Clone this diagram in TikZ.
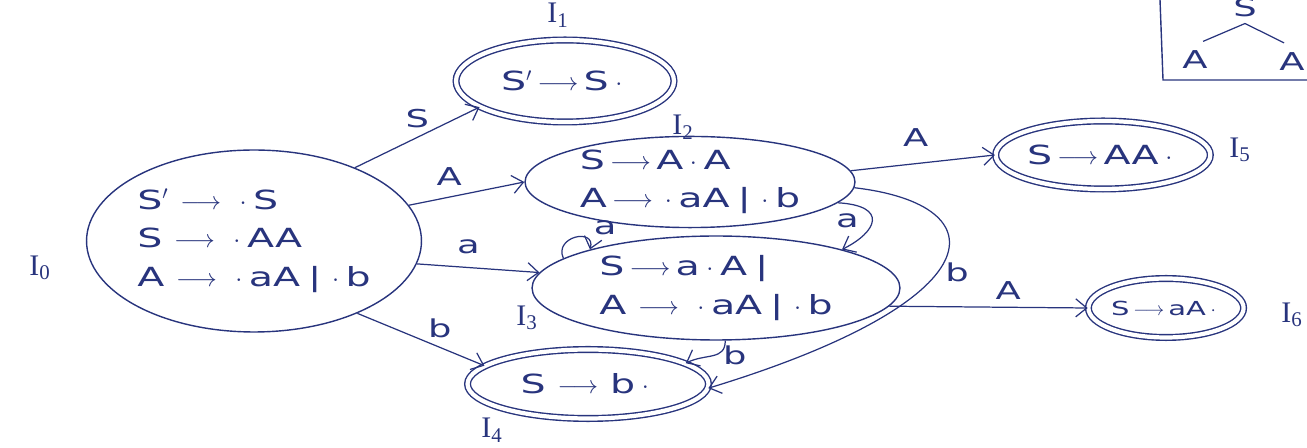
\documentclass[tikz,border=0pt]{standalone}
\usepackage{fontspec}
\setmainfont{DejaVu Sans}
\newfontfamily\hand[FakeStretch=1.5]{DejaVu Sans}
\newfontfamily\labfont{Liberation Serif}
\usetikzlibrary{arrows.meta,shapes.geometric,positioning}
\definecolor{ink}{RGB}{40,52,125}
\newcommand{\lto}{\hspace{.45em}$\longrightarrow$\hspace{.45em}}
\newcommand{\sto}{\hspace{.2em}$\longrightarrow$\hspace{.2em}}
\newcommand{\dt}{\hspace{.25em}$\cdot$\hspace{.25em}}
\newcommand{\br}{\hspace{.3em}|\hspace{.15em}}
\tikzset{
  itemset/.style={ellipse, draw=ink, line width=0.8pt, inner sep=0pt,
                  align=left, text=ink, font=\hand\fontsize{15}{22}\selectfont},
  doneset/.style={itemset, double=white, double distance=2.4pt},
  trans/.style={-{Straight Barb[length=2.2mm,width=3.6mm]}, draw=ink, line width=0.7pt},
  tlab/.style={text=ink, font=\hand\fontsize{14}{14}\selectfont},
  setlab/.style={text=ink, font=\labfont\fontsize{17}{17}\selectfont},
}

\begin{document}
\begin{tikzpicture}[x=0.02cm,y=0.02cm]
\useasboundingbox (0,0) rectangle (1307,-448);
\clip (0,0) rectangle (1307,-448);

% item sets
\node[itemset, minimum width=6.7cm, minimum height=3.64cm] (I0) at (254,-241)
  {S$'$\lto\dt S\\ S\lto\dt AA\\ A\lto\dt aA\br\dt b};
\node[doneset, minimum width=4.36cm, minimum height=1.64cm] (I1) at (565,-81)
  {S$'$\sto S\dt};
\node[itemset, minimum width=6.6cm, minimum height=1.72cm] (I2) at (690,-182)
  {S\sto A\dt A\\ A\sto\dt aA\br\dt b};
\node[itemset, minimum width=7.36cm, minimum height=2.08cm] (I3) at (716,-288)
  {S\sto a\dt A\br\\ A\lto\dt aA\br\dt b};
\node[doneset, minimum width=4.82cm, minimum height=1.38cm] (I4) at (588,-384)
  {S\lto b\dt};
\node[doneset, minimum width=4.14cm, minimum height=1.36cm] (I5) at (1103,-155)
  {S\sto AA\dt};
\node[doneset, minimum width=2.94cm, minimum height=1.18cm,
      font=\hand\fontsize{11}{12}\selectfont] (I6) at (1166,-308)
  {S\sto aA\dt};

% set names
\node[setlab] (l0) at (40,-268) {I\textsubscript{0}};
\node[setlab] (l1) at (558,-15) {I\textsubscript{1}};
\node[setlab] (l2) at (683,-127) {I\textsubscript{2}};
\node[setlab] (l3) at (527,-318) {I\textsubscript{3}};
\node[setlab] (l4) at (492,-430) {I\textsubscript{4}};
\node[setlab] (l5) at (1240,-150) {I\textsubscript{5}};
\node[setlab] (l6) at (1292,-315) {I\textsubscript{6}};

% goto edges
\draw[trans] (I0.36) -- node[tlab, above=2pt] {S} (I1.197);
\draw[trans] (I0.13) -- node[tlab, above=3pt, pos=0.35] {A} (I2.180);
\draw[trans] (I0.-8) -- node[tlab, above=4pt, pos=0.42] {a} (I3.175);
\draw[trans] (I0.-35) -- node[tlab, above=2pt, pos=0.65] {b} (I4.170);
\draw[trans] (I2.4) -- node[tlab, above=6pt, pos=0.45] {A} (I5.180);
\draw[trans] (I2.-8) .. controls +(50,-3) and +(36,18) ..
  node[tlab, left=4pt] {a} (I3.17);
\draw[trans] (I2.-2) .. controls +(146,-17) and +(289,88) ..
  node[tlab, right=1pt, pos=0.55] {b} (I4.-2);
\draw[trans] (I3.169) .. controls +(-10,22) and +(6,22) ..
  node[tlab, above right=-1pt, pos=0.8] {a} (I3.163);
\draw[trans] (I3.-80) .. controls +(0,-20) and +(20,10) ..
  node[tlab, right=2pt] {b} (I4.12);
\draw[trans] (I3.-6) -- node[tlab, above=1pt, pos=0.6] {A} (I6.180);

% parse tree sketch
\node[tlab] (ts) at (1245,-8) {S};
\node[tlab] (ta) at (1195,-60) {A};
\node[tlab] (tb) at (1292,-62) {A};
\draw[ink, line width=0.7pt, shorten >=5pt] (ts.south) -- (ta.north);
\draw[ink, line width=0.7pt, shorten >=5pt] (ts.south) -- (tb.north);
\draw[ink, line width=0.8pt] (1160,0) -- (1163,-80) -- (1320,-80);
\end{tikzpicture}
\end{document}
